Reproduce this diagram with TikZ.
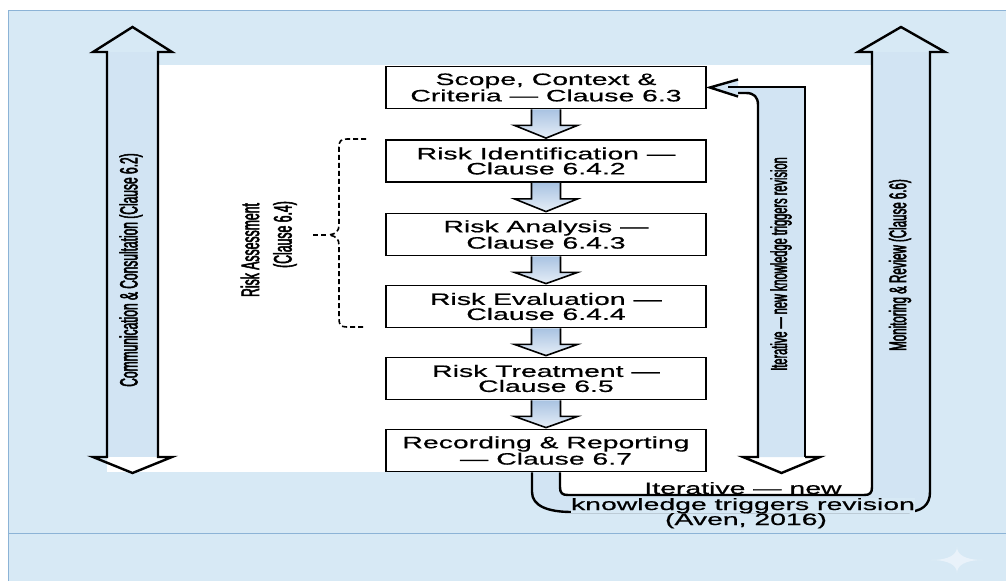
\documentclass[tikz,border=0pt]{standalone}
\usepackage{fontspec}
\usetikzlibrary{calc}
\newfontfamily\boxfont[FakeStretch=1.72,FakeBold=0.6]{Liberation Sans}
\newfontfamily\sidefont[FakeStretch=0.48,FakeBold=2]{Liberation Sans}
\definecolor{panel}{HTML}{D7E9F5}
\definecolor{panelline}{HTML}{8CB3D6}
\definecolor{shaft}{HTML}{D2E4F3}
\definecolor{flowtop}{HTML}{A9C3E2}
\definecolor{flowbot}{HTML}{E6EEF7}
\definecolor{sparkle}{HTML}{E9F2FA}

\tikzset{
  procbox/.style={draw=black, line width=1.8pt, fill=white, minimum width=320pt,
    minimum height=42pt, inner sep=0pt, align=center,
    font=\boxfont\fontsize{16.5}{15}\selectfont},
  flowarrow/.style={draw=black, line width=1.6pt, top color=flowtop,
    bottom color=flowbot, line join=miter},
  hollow/.style={draw=black, line width=2.4pt, line join=miter},
  sidelabel/.style={rotate=90, inner sep=0pt,
    font=\sidefont\fontsize{#1}{#1}\selectfont},
  notelabel/.style={inner sep=0pt, anchor=base,
    font=\boxfont\fontsize{16.5}{15}\selectfont},
  bracket/.style={draw=black, line width=1.6pt, dash pattern=on 5pt off 3pt},
}

% block arrow from the foot of one step to the head of the next
\newcommand\flowstep[2]{%
  \draw[flowarrow] ($(#1.south)+(-14.5,0)$) -- ++(0,16) -- ++(-17,0)
    -- ($(#2.north)+(0,-1)$) -- ($(#1.south)+(31.5,16)$) -- ++(-17,0)
    -- ($(#1.south)+(14.5,0)$);}

\begin{document}
\begin{tikzpicture}[x=1pt,y=-1pt]
\useasboundingbox (0,0) rectangle (1006,581);

% backdrop panel
\fill[white] (0,0) rectangle (1006,581);
\fill[panel] (8,10) rectangle (1006,581);
\draw[panelline, line width=1pt] (8,581) -- (8,10) -- (1006,10);
\draw[panelline, line width=0.8pt] (8,533) -- (1006,533);
\fill[sparkle] (931,560) .. controls (950,560) and (957,554) .. (957,547)
  .. controls (957,554) and (964,560) .. (983,560)
  .. controls (964,560) and (957,566) .. (957,573)
  .. controls (957,566) and (950,560) .. (931,560) -- cycle;

% white working area
\fill[white] (107,65) rectangle (872,472);
\fill[white] (560,470) -- (560,487) .. controls (560,493) and (562,495) .. (568,495)
  -- (864,495) .. controls (870,495) and (872,493) .. (872,487) -- (872,470) -- cycle;

% process steps
\node[procbox] (s1) at (546,87.5) {Scope, Context \&\\Criteria — Clause 6.3};
\node[procbox] (s2) at (546,161) {Risk Identification —\\Clause 6.4.2};
\node[procbox] (s3) at (546,234.5) {Risk Analysis —\\Clause 6.4.3};
\node[procbox] (s4) at (546,306.5) {Risk Evaluation —\\Clause 6.4.4};
\node[procbox] (s5) at (546,378.5) {Risk Treatment —\\Clause 6.5};
\node[procbox] (s6) at (546,450.5) {Recording \& Reporting\\— Clause 6.7};

\flowstep{s1}{s2}
\flowstep{s2}{s3}
\flowstep{s3}{s4}
\flowstep{s4}{s5}
\flowstep{s5}{s6}

% communication & consultation: double-headed hollow arrow
\fill[shaft] (107,52) rectangle (158,457);
\draw[hollow] (107,52) -- (93,52) -- (132.5,27) -- (172,52) -- (158,52) -- (158,457)
  -- (172,457) -- (132.5,473) -- (93,457) -- (107,457) -- cycle;
\node[sidelabel=25] (comm) at (131,270) {Communication \& Consultation (Clause 6.2)};

% monitoring & review: loop from the last step up the right side
\fill[shaft] (532,472) -- (532,492) .. controls (532,506) and (548,512) .. (572,512)
  -- (905,512) .. controls (922,512) and (930,505) .. (930,492) -- (930,52)
  -- (872,52) -- (872,487) .. controls (872,493) and (870,495) .. (864,495)
  -- (568,495) .. controls (562,495) and (560,493) .. (560,487) -- (560,472) -- cycle;
\draw[hollow] ($(s6.south)+(-14,0)$) -- (532,492) .. controls (532,506) and (548,512) .. (572,512)
  -- (905,512) .. controls (922,512) and (930,505) .. (930,492) -- (930,52)
  -- (945,52) -- (901,27) -- (858,52) -- (872,52) -- (872,487)
  .. controls (872,493) and (870,495) .. (864,495) -- (568,495)
  .. controls (562,495) and (560,493) .. (560,487) -- ($(s6.south)+(14,0)$);
\node[sidelabel=24] (mon) at (900,265) {Monitoring \& Review (Clause 6.6)};

% iteration arrow back to the first step
\coordinate (itip) at ($(s1.east)+(3,0)$);
\fill[shaft] (758,457) -- (758,105) .. controls (758,97) and (754,93) .. (746,93)
  -- (738,93) -- (738,96.5) -- (itip) -- (738,79.5) -- (738,87) -- (805,87) -- (805,457) -- cycle;
\draw[hollow] (805,457) -- (805,87) -- (728,87);
\draw[hollow] (738,79.5) -- (itip) -- (738,96.5);
\draw[hollow] (738,93) -- (746,93) .. controls (754,93) and (758,97) .. (758,105)
  -- (758,457) -- (743,457) -- (781.5,473) -- (820,457) -- (805,457);
\node[sidelabel=23] (iter) at (781,264) {Iterative — new knowledge triggers revision};

% risk assessment bracket
\draw[bracket] (366,139) -- (347,139) .. controls (341,139) and (339,141) .. (339,147)
  -- (339,225) .. controls (339,231) and (336,234) .. (329,235)
  .. controls (336,236) and (339,239) .. (339,245) -- (339,319)
  .. controls (339,325) and (341,327) .. (347,327) -- (366,327);
\draw[bracket] (313,235) -- (327,235);
\node[sidelabel=25.5] (ra1) at (250,250) {Risk Assessment};
\node[sidelabel=25.5] (ra2) at (285,234.5) {(Clause 6.4)};

% note under the loop
\node[notelabel] (n1) at (743,494) {Iterative — new};
\node[notelabel, fill=panel] (n2) at (743,510) {knowledge triggers revision};
\node[notelabel] (n3) at (746,525) {(Aven, 2016)};
\end{tikzpicture}
\end{document}
